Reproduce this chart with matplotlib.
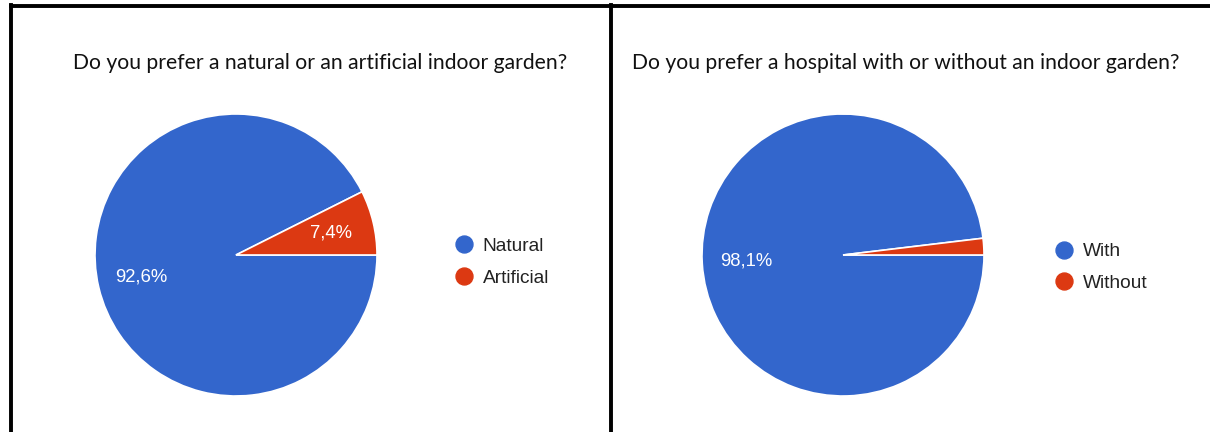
import matplotlib
matplotlib.use("Agg")
import matplotlib.pyplot as plt
from matplotlib.lines import Line2D
from matplotlib.font_manager import FontProperties

# Survey answers (percent)
q1_title = "Do you prefer a natural or an artificial indoor garden?"
q1_labels = ["Natural", "Artificial"]
q1_values = [92.6, 7.4]

q2_title = "Do you prefer a hospital with or without an indoor garden?"
q2_labels = ["With", "Without"]
q2_values = [98.1, 1.9]

colors = ["#3366CC", "#DC3912"]

W, H = 1210, 432
fig = plt.figure(figsize=(W / 100, H / 100), dpi=100)
fig.patch.set_facecolor("white")


def fx(px):
    return px / W


def fy(py):
    return 1 - py / H


def fmt_pct(pct):
    # small slices are left unlabelled
    if pct < 5:
        return ""
    return f"{pct:.1f}%".replace(".", ",")


legend_font = FontProperties(family="Liberation Sans", size=13.8)


def draw_panel(cx, cy, r, title, title_x, labels, values, leg_x, leg_y):
    side = 2.5 * r
    ax = fig.add_axes([fx(cx - side / 2), fy(cy + side / 2), side / W, side / H])
    start = 360 * values[1] / sum(values)
    ax.pie(
        values, colors=colors, startangle=start, counterclock=True,
        autopct=fmt_pct, pctdistance=0.69,
        wedgeprops=dict(edgecolor="white", linewidth=1.2),
        textprops=dict(color="white", fontsize=13.3, family="Liberation Sans"),
    )
    ax.set_xlim(-1.25, 1.25)
    ax.set_ylim(-1.25, 1.25)
    ax.set_aspect("equal")

    fig.text(fx(title_x), fy(63), title, ha="left", va="center",
             fontsize=15.2, family="Lato", color="#111111")

    handles = [Line2D([], [], marker="o", linestyle="none", markersize=12.2,
                      markerfacecolor=c, markeredgecolor=c) for c in colors]
    fig.legend(handles, labels, loc="center left",
               bbox_to_anchor=(fx(leg_x), fy(leg_y)), frameon=False,
               prop=legend_font, labelcolor="#222222",
               handlelength=0.9, handletextpad=0.55,
               labelspacing=0.74, borderpad=0, borderaxespad=0)


draw_panel(236, 255, 141, q1_title, 73, q1_labels, q1_values, 455, 262)
draw_panel(843, 255, 141, q2_title, 632, q2_labels, q2_values, 1055, 267.5)

# panel borders
lw = 2.8
fig.add_artist(Line2D([fx(10.5), fx(W)], [fy(6), fy(6)], color="black", lw=lw))
fig.add_artist(Line2D([fx(10.5), fx(10.5)], [fy(4.5), fy(H)], color="black", lw=lw))
fig.add_artist(Line2D([fx(611), fx(611)], [fy(4.5), fy(H)], color="black", lw=lw))

fig.savefig("out.png", dpi=100, facecolor="white")
